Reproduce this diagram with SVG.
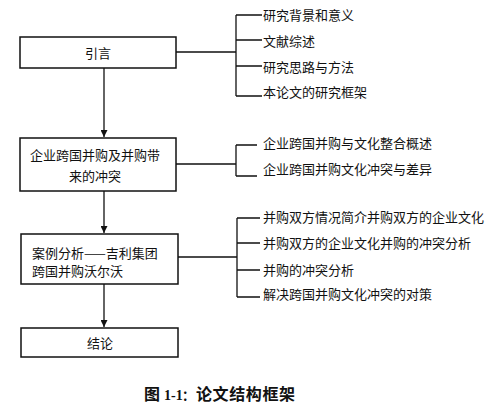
<svg xmlns="http://www.w3.org/2000/svg" width="498" height="405" viewBox="0 0 498 405">
<style>
.box{fill:#fff;stroke:#111;stroke-width:1.5}
.ln{fill:none;stroke:#111;stroke-width:1.3}
.t{font-family:"Noto Sans CJK SC","Liberation Sans",sans-serif;font-size:13px;fill:#111}
.cap{font-family:"Liberation Serif","Noto Sans CJK SC",serif;font-size:16px;font-weight:bold;fill:#111}
</style>
<defs>
<marker id="ah" viewBox="0 0 10 10" refX="10" refY="5" markerWidth="7" markerHeight="7" orient="auto" markerUnits="userSpaceOnUse">
<path d="M0,0 L10,5 L0,10 Z" fill="#111"/>
</marker>
</defs>
<rect width="498" height="405" fill="#fff"/>
<g id="connectors">
<line class="ln" x1="104" y1="68" x2="104" y2="137" marker-end="url(#ah)"/>
<line class="ln" x1="104" y1="191" x2="104" y2="233" marker-end="url(#ah)"/>
<line class="ln" x1="104" y1="284" x2="104" y2="327" marker-end="url(#ah)"/>
<path class="ln" d="M176,52 H236 M236,15 V96 M236,15 H262 M236,40 H262 M236,66 H262 M236,96 H262"/>
<path class="ln" d="M176,164 H236 M236,145 V176 M236,145 H257 M236,176 H257"/>
<path class="ln" d="M178,257 H237 M237,218 V297 M237,218 H260 M237,243 H260 M237,270 H260 M237,297 H260"/>
</g>
<g id="n1">
<rect class="box" x="20" y="37" width="156" height="31"/>
<text class="t" x="98" y="57.5" text-anchor="middle">引言</text>
</g>
<g id="n2">
<rect class="box" x="20" y="138" width="156" height="53"/>
<text class="t" x="95" y="159.5" text-anchor="middle">企业跨国并购及并购带</text>
<text class="t" x="95" y="180.5" text-anchor="middle">来的冲突</text>
</g>
<g id="n3">
<rect class="box" x="21" y="234" width="157" height="50"/>
<text class="t" x="32" y="257.5">案例分析——吉利集团</text>
<text class="t" x="32" y="275.5">跨国并购沃尔沃</text>
</g>
<g id="n4">
<rect class="box" x="21" y="328" width="157" height="29"/>
<text class="t" x="100" y="347.5" text-anchor="middle">结论</text>
</g>
<g id="items1">
<text class="t" x="263" y="19.5">研究背景和意义</text>
<text class="t" x="263" y="46">文献综述</text>
<text class="t" x="263" y="71.5">研究思路与方法</text>
<text class="t" x="263" y="96.5">本论文的研究框架</text>
</g>
<g id="items2">
<text class="t" x="263" y="148">企业跨国并购与文化整合概述</text>
<text class="t" x="263" y="174">企业跨国并购文化冲突与差异</text>
</g>
<g id="items3">
<text class="t" x="263" y="221.5">并购双方情况简介并购双方的企业文化</text>
<text class="t" x="263" y="247.5">并购双方的企业文化并购的冲突分析</text>
<text class="t" x="263" y="274.5">并购的冲突分析</text>
<text class="t" x="263" y="299">解决跨国并购文化冲突的对策</text>
</g>
<text class="cap" y="399.5"><tspan x="144">图</tspan><tspan x="164" font-size="14">1-1</tspan><tspan x="182" font-size="13">：</tspan><tspan x="196" letter-spacing="0.6">论文结构框架</tspan></text>
</svg>
